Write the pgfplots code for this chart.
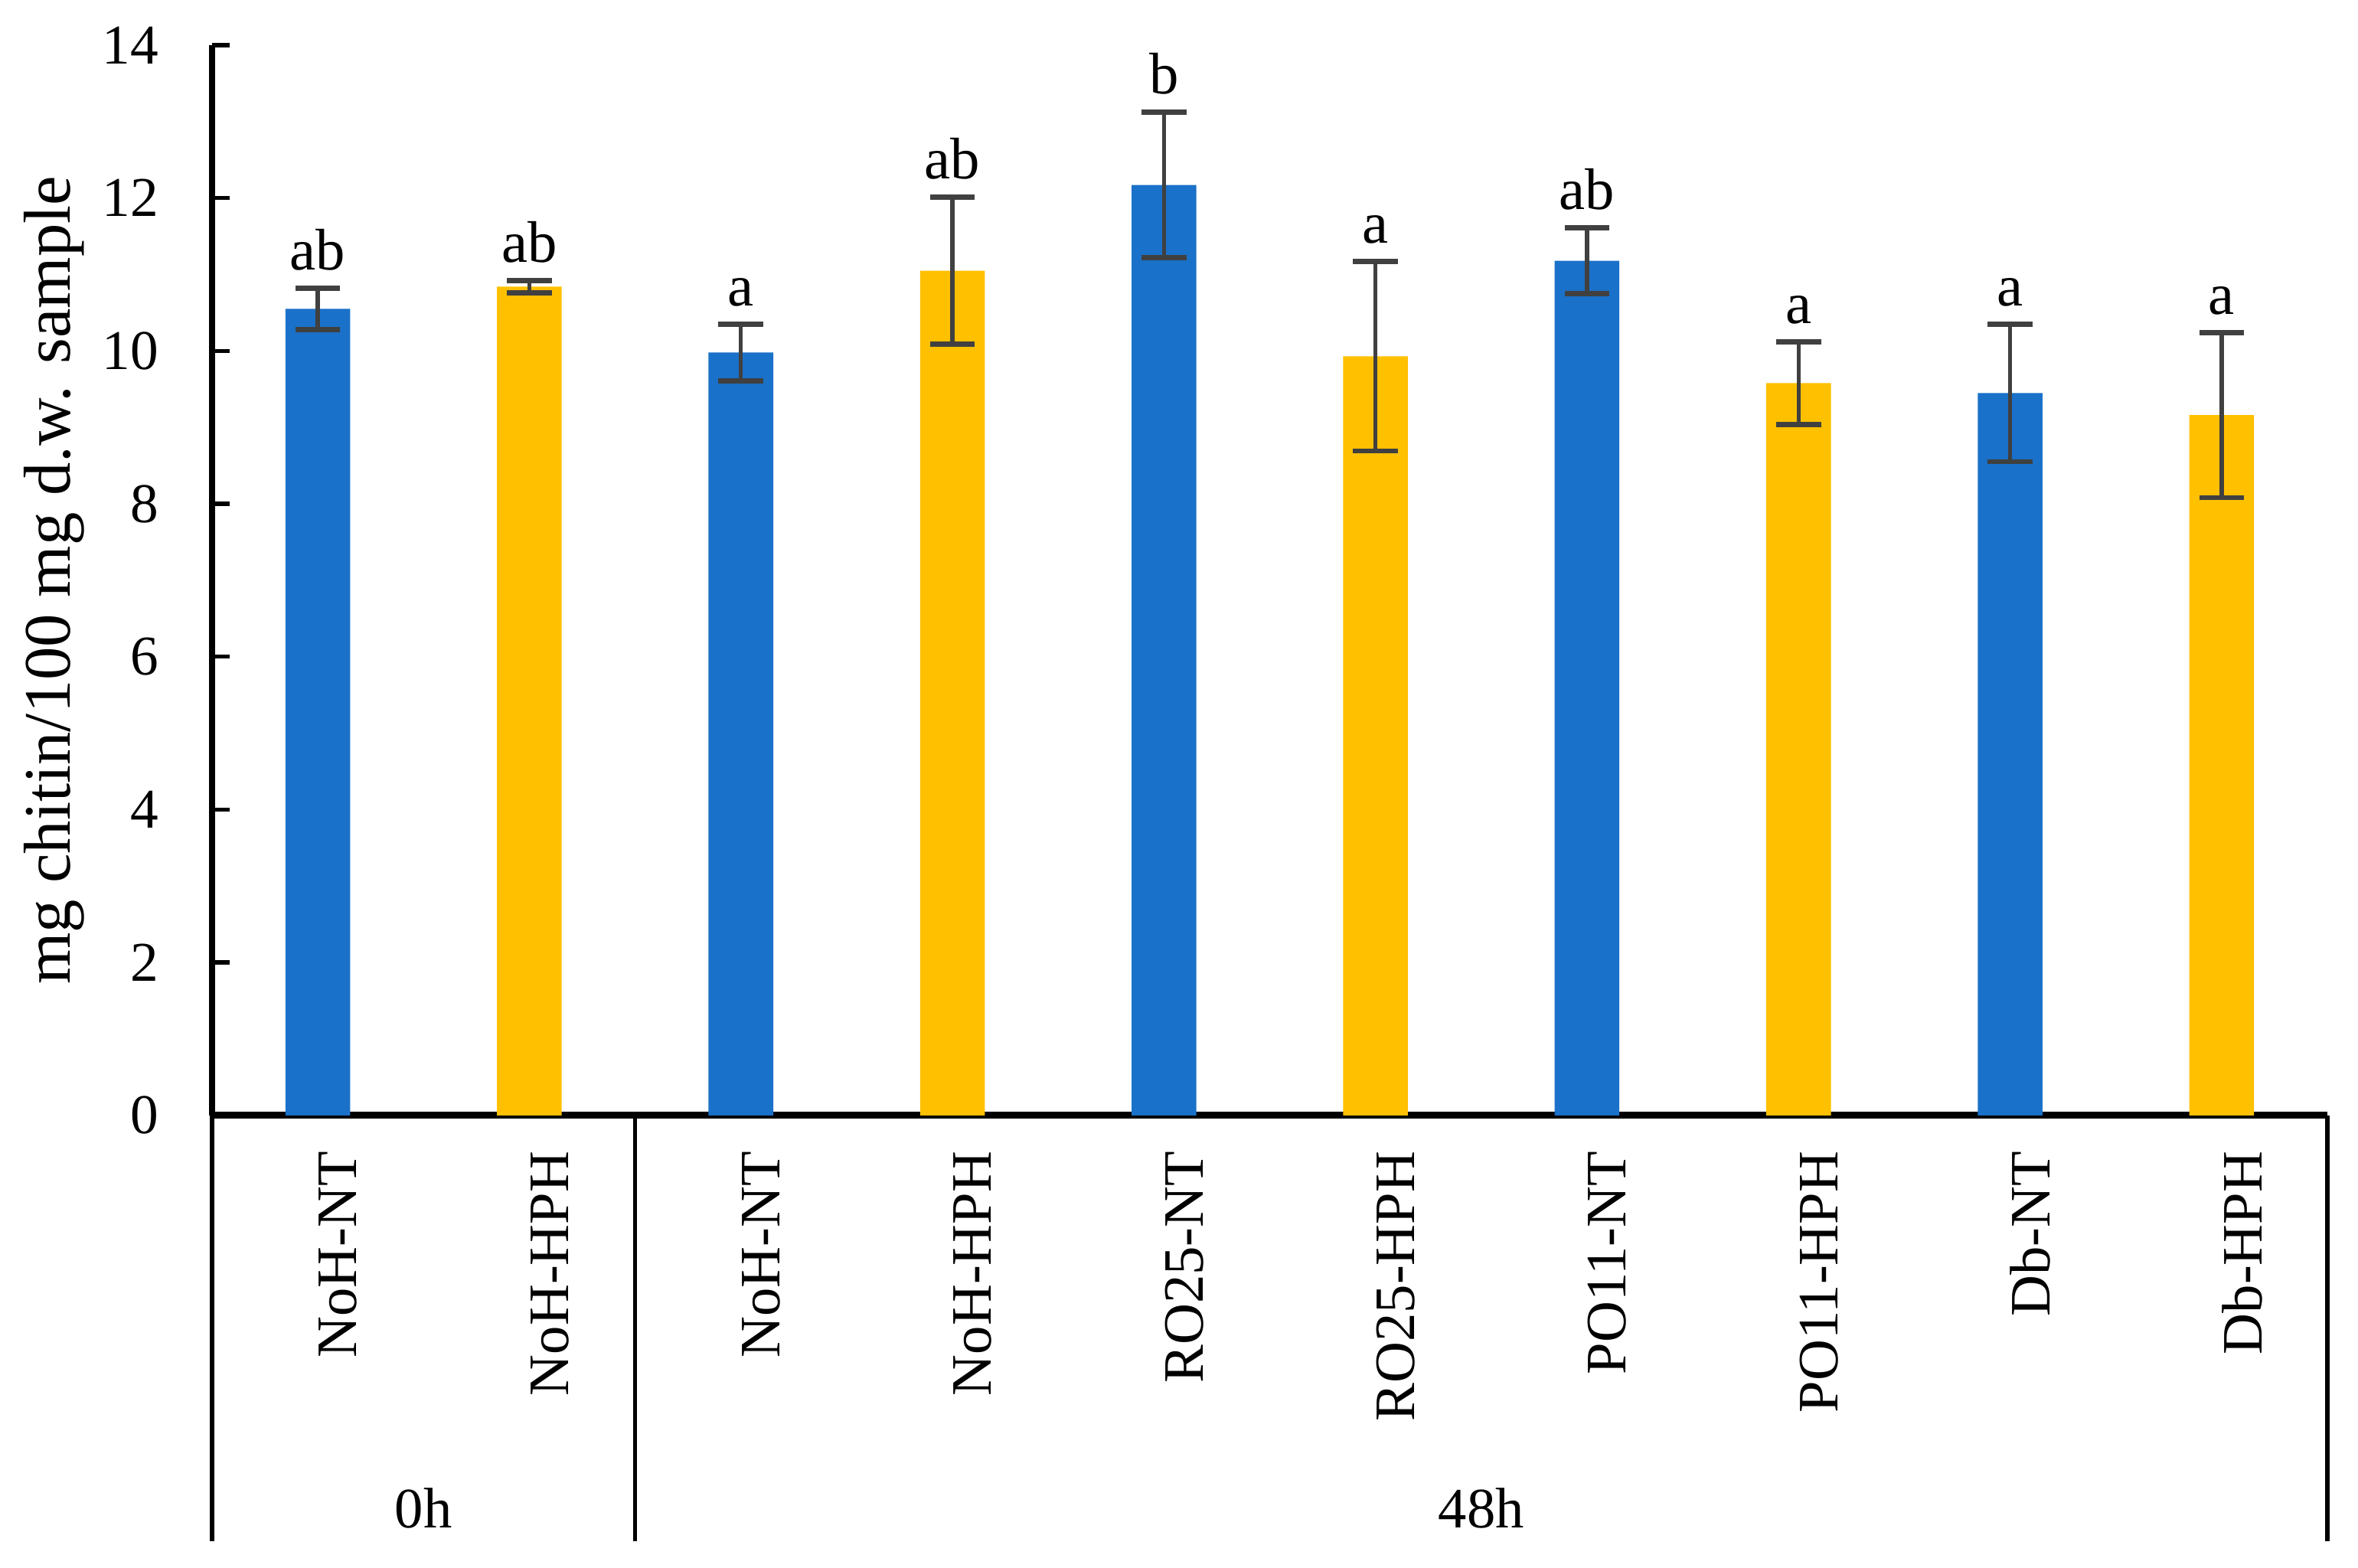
\documentclass[border=0pt]{standalone}
\usepackage{pgfplots}
\usepackage{pgfplotstable}
\pgfplotsset{compat=1.18}
\usepackage{fontspec}
\setmainfont{Liberation Serif}

\definecolor{barblue}{HTML}{1A71C9}
\definecolor{bargold}{HTML}{FFC000}
\definecolor{errgray}{HTML}{404040}

% x = category position, y = mean, err = error bar, top = y + err
\pgfplotstableread{
x y err top lab
0 10.55 0.27 10.82 ab
1 10.84 0.08 10.92 ab
2 9.98 0.37 10.35 a
3 11.05 0.96 12.01 ab
4 12.17 0.95 13.12 b
5 9.93 1.24 11.17 a
6 11.18 0.43 11.61 ab
7 9.58 0.54 10.12 a
8 9.45 0.90 10.35 a
9 9.16 1.08 10.24 a
}\chitin

\pgfplotstableread{
x y err
0 10.55 0.27
2 9.98 0.37
4 12.17 0.95
6 11.18 0.43
8 9.45 0.90
}\blueset

\pgfplotstableread{
x y err
1 10.84 0.08
3 11.05 0.96
5 9.93 1.24
7 9.58 0.54
9 9.16 1.08
}\goldset

\begin{document}
\begin{tikzpicture}
\begin{axis}[
    scale only axis,
    width=414.5pt,
    height=209.7pt,
    xmin=-0.5, xmax=9.5,
    ymin=0, ymax=14,
    axis lines*=left,
    axis line style={line width=1.3pt, black},
    ytick={0,2,...,14},
    ytick align=inside,
    major tick length=3.5pt,
    tick style={line width=0.8pt, black},
    xtick={0,...,9},
    xticklabels={NoH-NT,NoH-HPH,NoH-NT,NoH-HPH,RO25-NT,RO25-HPH,PO11-NT,PO11-HPH,Db-NT,Db-HPH},
    x tick style={draw=none},
    xticklabel style={rotate=90, anchor=east, yshift=-4pt,
        font=\fontsize{11.2}{13}\selectfont},
    yticklabel style={xshift=-7pt, font=\fontsize{11}{13}\selectfont},
    /pgf/number format/assume math mode=true,
    ylabel={mg chitin/100 mg d.w. sample},
    every axis y label/.style={at={(rel axis cs:-0.0748,0.5)}, rotate=90,
        anchor=center, font=\fontsize{13}{15}\selectfont},
    ybar, bar width=0.306, bar shift=0pt,
    clip=false,
]
\addplot[fill=barblue, draw=none,
    error bars/.cd, y dir=both, y explicit,
    error bar style={line width=0.8pt, errgray},
    error mark options={rotate=90, mark size=4.4pt, line width=1pt, errgray}]
    table[x=x, y=y, y error=err] {\blueset};
\addplot[fill=bargold, draw=none,
    error bars/.cd, y dir=both, y explicit,
    error bar style={line width=0.8pt, errgray},
    error mark options={rotate=90, mark size=4.4pt, line width=1pt, errgray}]
    table[x=x, y=y, y error=err] {\goldset};
% significance letters above the error bars
\addplot[draw=none, fill=none, only marks, mark=none,
    point meta=explicit symbolic,
    nodes near coords,
    every node near coord/.append style={anchor=south, black,
        font=\fontsize{11.5}{13}\selectfont}]
    table[x=x, y=top, meta=lab] {\chitin};
% multi-level category axis separators
\draw[line width=1pt] (axis cs:-0.5,0) -- ++(0pt,-83.4pt);
\draw[line width=0.8pt] (axis cs:1.5,0) -- ++(0pt,-83.4pt);
\draw[line width=0.8pt] (axis cs:9.5,0) -- ++(0pt,-83.4pt);
\node[font=\fontsize{11.2}{13}\selectfont] at ([yshift=-77pt]axis cs:0.5,0) {0h};
\node[font=\fontsize{11.2}{13}\selectfont] at ([yshift=-77pt]axis cs:5.5,0) {48h};
\coordinate (bl) at (rel axis cs:0,0);
\coordinate (tr) at (rel axis cs:1,1);
\end{axis}
\pgfresetboundingbox
\path[use as bounding box] ([xshift=-41.55pt,yshift=-88.65pt]bl) rectangle ([xshift=6pt,yshift=8.85pt]tr);
\end{tikzpicture}
\end{document}
